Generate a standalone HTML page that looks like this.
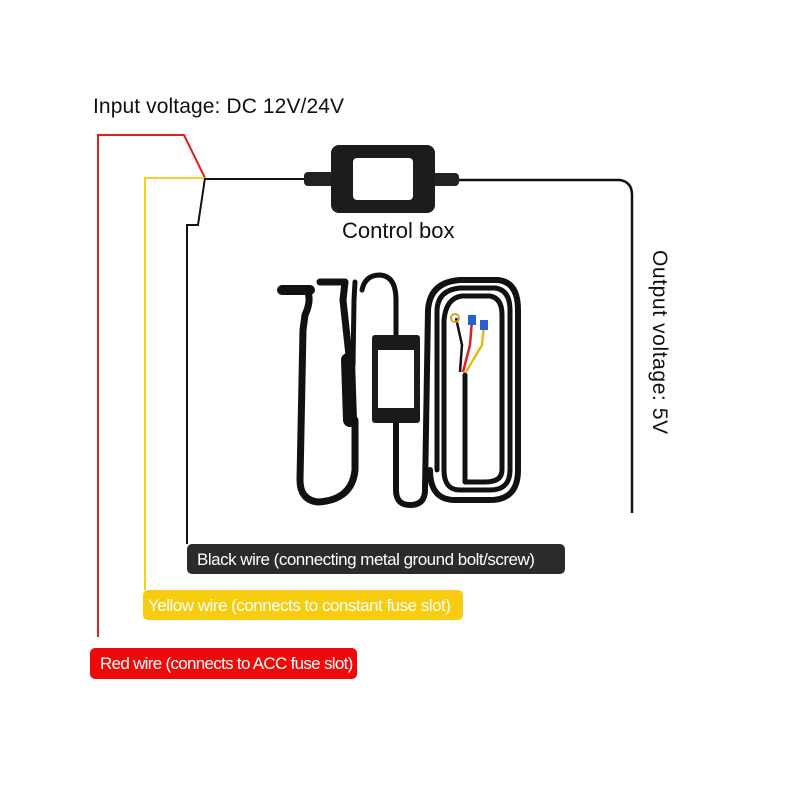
<!DOCTYPE html>
<html><head><style>
body{margin:0;background:#fff;}
.w{position:relative;width:800px;height:800px;overflow:hidden;font-family:"Liberation Sans",sans-serif;}
.t{position:absolute;white-space:nowrap;}
.lab{position:absolute;border-radius:5px;font-size:17px;letter-spacing:-0.5px;line-height:31px;padding-left:10px;box-sizing:border-box;white-space:nowrap;overflow:hidden;}
</style></head><body><div class="w">
<svg width="800" height="800" style="position:absolute;left:0;top:0">
<polyline points="98,637 98,135 184,135 205,178" fill="none" stroke="#e02020" stroke-width="2"/>
<polyline points="145,590 145,178 205,178" fill="none" stroke="#f5d020" stroke-width="2"/>
<polyline points="187,544 187,225 198,225 205,178" fill="none" stroke="#111" stroke-width="2"/>
<line x1="205" y1="179" x2="310" y2="179" stroke="#111" stroke-width="2"/>
<rect x="304" y="172" width="30" height="14" rx="4" fill="#222"/>
<rect x="432" y="173" width="27" height="13" rx="4" fill="#222"/>
<path d="M459,180 L620,180 Q632,182 632,195 L632,513" fill="none" stroke="#111" stroke-width="2.5"/>
<rect x="331" y="145" width="104" height="68" rx="8" fill="#1c1c1c"/>
<rect x="353" y="158" width="60" height="42" rx="4" fill="#fff"/>
<g fill="none" stroke="#111" stroke-linecap="round" stroke-linejoin="round">
<path d="M287,290 L307,290 Q312,300 305,315 L303,330 L300,480 Q300,500 318,502 Q352,500 355,470 L355,420" stroke-width="7"/>
<path d="M282,290 L310,290" stroke-width="10"/>
<path d="M320,282 L345,282 L343,300 L350,365" stroke-width="7"/>
<path d="M355,282 L354,300 L353,365" stroke-width="5"/>
<path d="M348,360 L350,420" stroke-width="14"/>
<path d="M362,290 Q365,275 380,275 Q396,276 396,300 L396,340" stroke-width="5"/>
<path d="M396,420 L396,490 Q396,505 410,505 Q425,505 425,490 L428,310 Q430,282 460,280 L498,280 Q518,282 518,310 L518,470 Q518,500 490,500 L455,500 Q430,500 430,470" stroke-width="6"/>
<path d="M437,470 L437,310 Q438,290 460,288 L495,288 Q510,290 510,310 L510,470 Q510,490 490,490 L460,490 Q444,490 444,470 L444,320 Q446,298 462,296 L490,296 Q502,298 502,315 L502,470 Q502,482 485,482 L465,482 L465,375" stroke-width="5"/>
</g>
<rect x="372" y="335" width="48" height="88" rx="3" fill="#1a1a1a"/>
<rect x="378" y="350" width="36" height="58" fill="#fff"/>
<path d="M460,372 L462,345 L456,318" stroke="#111" stroke-width="2.5" fill="none"/>
<path d="M463,372 L470,345 L472,320" stroke="#d22" stroke-width="2.5" fill="none"/>
<path d="M466,372 L482,345 L484,325" stroke="#e8b820" stroke-width="2.5" fill="none"/>
<circle cx="455" cy="318" r="4" fill="none" stroke="#d9a020" stroke-width="2"/>
<rect x="468" y="315" width="8" height="10" fill="#2a5fd0"/>
<rect x="480" y="320" width="8" height="10" fill="#2a5fd0"/>
</svg>
<div class="t" style="left:93px;top:95px;font-size:21px;letter-spacing:0.1px;color:#111">Input voltage: DC 12V/24V</div>
<div class="t" style="left:342px;top:218px;font-size:22px;color:#111">Control box</div>
<div class="t" style="left:647px;top:250px;font-size:21px;letter-spacing:0.6px;color:#111;writing-mode:vertical-rl">Output voltage: 5V</div>
<div class="lab" style="left:187px;top:544px;width:378px;height:30px;background:#2b2b2b;color:#fff">Black wire (connecting metal ground bolt/screw)</div>
<div class="lab" style="left:143px;top:590px;width:320px;height:30px;background:#f8cc10;color:#fff;padding-left:5px">Yellow wire (connects to constant fuse slot)</div>
<div class="lab" style="left:90px;top:648px;width:267px;height:31px;background:#ee0a0a;color:#fff;letter-spacing:-0.7px">Red wire (connects to ACC fuse slot)</div>
</div></body></html>
